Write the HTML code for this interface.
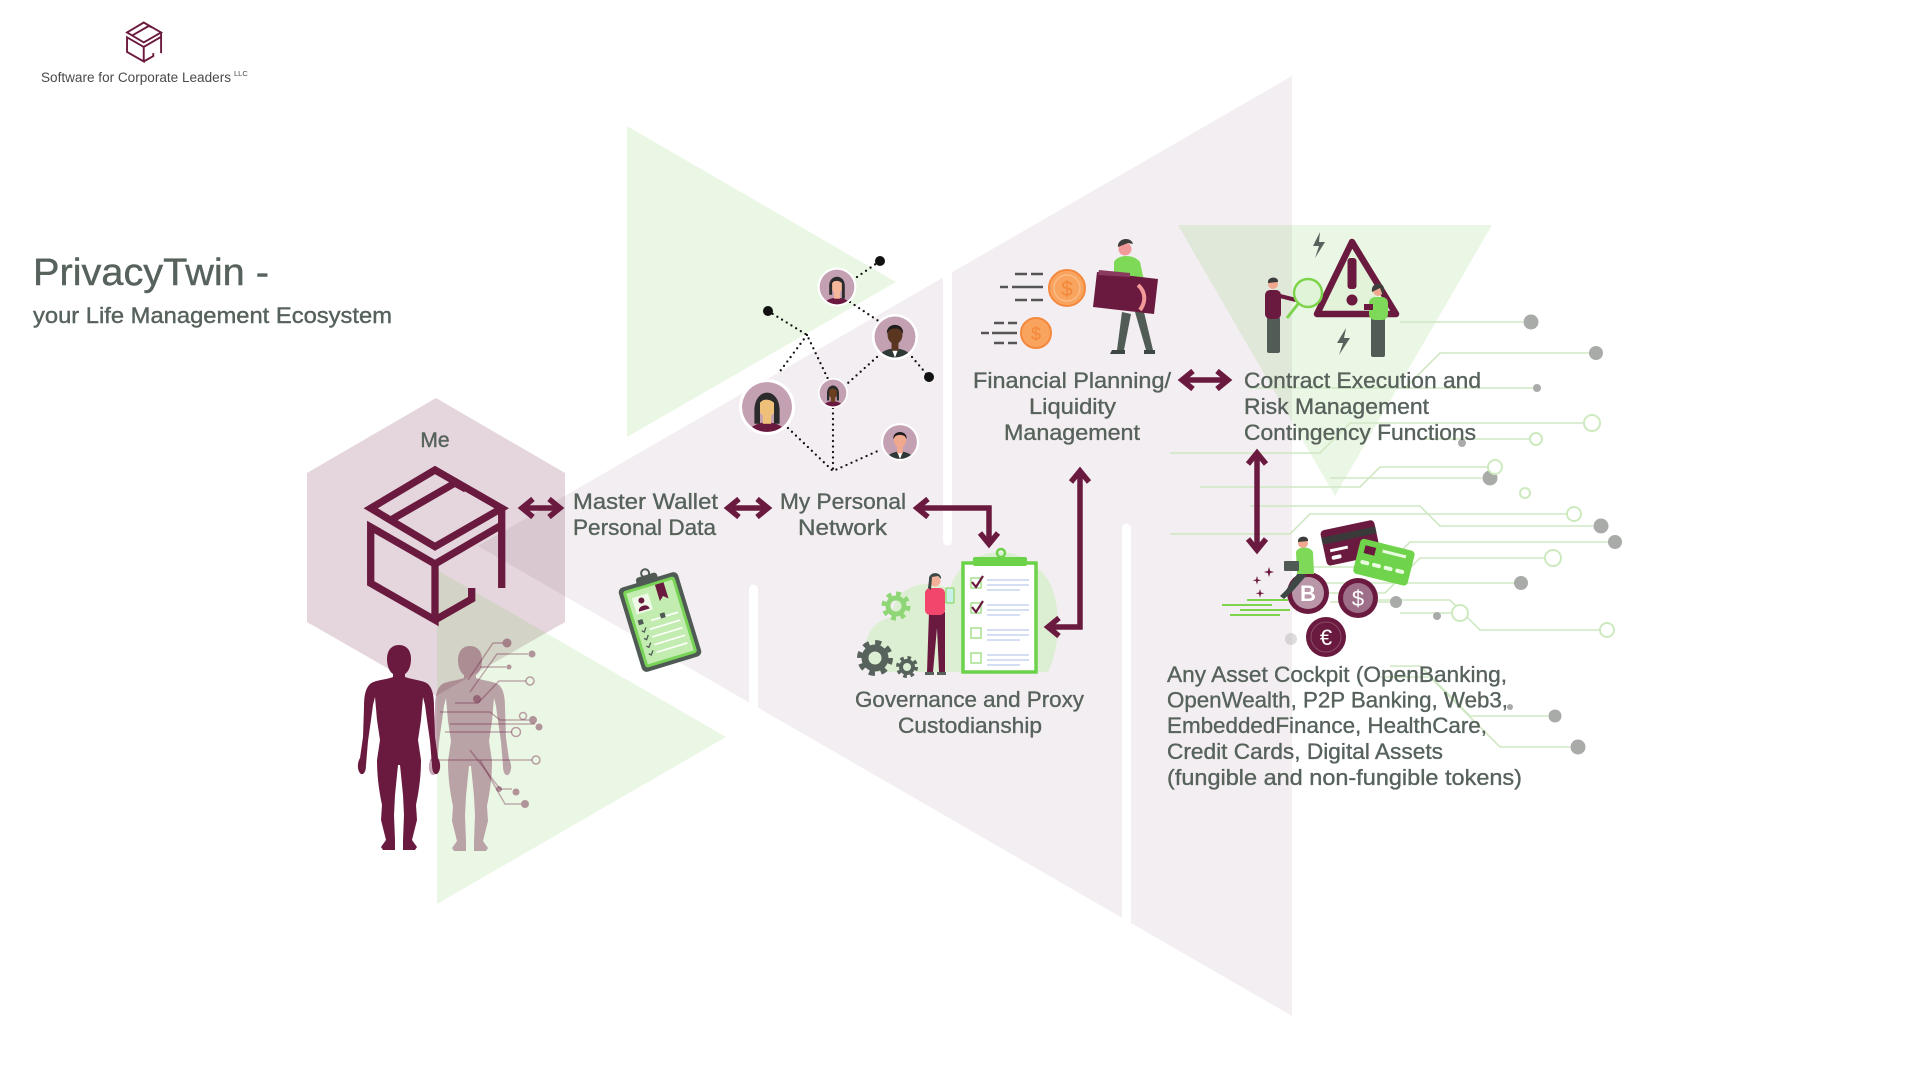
<!DOCTYPE html>
<html><head><meta charset="utf-8"><style>
html,body{margin:0;padding:0;background:#fff;}
svg{display:block;}
text{font-family:"Liberation Sans",Arial,sans-serif;}
</style></head><body>
<svg width="1920" height="1076" viewBox="0 0 1920 1076" xmlns="http://www.w3.org/2000/svg">
<defs>
<clipPath id="ac"><circle r="17.8"/></clipPath>
<g id="box" fill="none" stroke="#6b1a3f" stroke-width="7.3" stroke-linejoin="miter" stroke-linecap="butt">
<path d="M370.7 508.3 L435 470 L501.7 508.3 L435 546.7 Z"/>
<path d="M392.5 519 L455 483 L466 489"/>
<path d="M435 564 L370.7 527 V583.3 L435 620 V564 L501.7 525"/>
<path d="M501.7 506 V588"/>
<path d="M435 620 L471.7 599 V588"/>
</g>
<path id="man" d="M0 0 C8 0 12 6 12 14 C12 22 9 27 6 29 L6 32 C14 35 24 35 29 39 C34 44 35 52 35 62 L36 92 L39 113 C42 118 42 126 38 129 C35 130 33 126 33 120 L31 96 L28 75 L26 60 L24 52 L22 75 L19 95 L22 115 C22 135 19 150 17 160 L18 175 L13 195 L18 202 L16 205 L4 205 L4 195 L5 170 L4 150 L1 120 L-1 120 L-4 150 L-5 170 L-4 195 L-4 205 L-16 205 L-18 202 L-13 195 L-18 175 L-17 160 C-19 150 -22 135 -22 115 L-19 95 L-22 75 L-24 52 L-26 60 L-28 75 L-31 96 L-33 120 C-33 126 -35 130 -38 129 C-42 126 -42 118 -39 113 L-36 92 L-35 62 C-35 52 -34 44 -29 39 C-24 35 -14 35 -6 32 L-6 29 C-9 27 -12 22 -12 14 C-12 6 -8 0 0 0 Z"/>
</defs>

<!-- background shapes -->
<rect width="1920" height="1076" fill="#fff"/>
<polygon points="478,546 1292,76 1292,1016" fill="#f3eef1"/>
<polygon points="436,398 565,473 565,622 436,696 307,622 307,473" fill="#6b1a3f" fill-opacity="0.18"/>
<g stroke="#fff" stroke-width="9" stroke-linecap="round">
<line x1="753.5" y1="589" x2="753.5" y2="730"/>
<line x1="947.5" y1="250" x2="947.5" y2="541"/>
<line x1="1126.5" y1="528" x2="1126.5" y2="940"/>
</g>
<g fill="#6ec846" fill-opacity="0.14">
<polygon points="627,126 627,437 896,282"/>
<polygon points="437,570 437,904 726,737"/>
<polygon points="1178,225 1492,225 1335,496"/>
</g>

<!-- circuit lines right -->
<g fill="none" stroke="#cfe8c3" stroke-width="1.6">
<path d="M1523 322 H1400"/>
<path d="M1589 353 H1440 L1405 388 H1250"/>
<path d="M1533 388 H1390"/>
<path d="M1584 423 H1350 L1320 453 H1170"/>
<path d="M1530 439 H1420"/>
<path d="M1488 467 H1380 L1360 487 H1200"/>
<path d="M1482 478 H1330"/>
<path d="M1567 514 H1310 L1290 534 H1170"/>
<path d="M1593 526 H1440 L1420 506 H1250"/>
<path d="M1608 542 H1410 L1385 567 H1300"/>
<path d="M1545 558 H1420 L1385 593 H1300"/>
<path d="M1514 583 H1300"/>
<path d="M1452 613 H1400"/>
<path d="M1600 630 H1480 L1450 600 H1350"/>
<path d="M1548 716 H1470 L1420 666 H1390"/>
<path d="M1570 747 H1500 L1430 677 H1380"/>
<path d="M1390 602 H1330"/>
</g>
<g fill="#a9aba9">
<circle cx="1531" cy="322" r="7.5"/><circle cx="1596" cy="353" r="7"/><circle cx="1537" cy="388" r="4"/>
<circle cx="1462" cy="443" r="4"/><circle cx="1490" cy="478" r="7.5"/><circle cx="1601" cy="526" r="7.5"/>
<circle cx="1615" cy="542" r="7"/><circle cx="1521" cy="583" r="7"/><circle cx="1396" cy="602" r="6"/>
<circle cx="1437" cy="616" r="4"/><circle cx="1555" cy="716" r="6.5"/><circle cx="1578" cy="747" r="7.5"/>
<circle cx="1291" cy="639" r="6" fill-opacity="0.4"/><circle cx="1510" cy="707" r="3"/>
</g>
<g fill="#fff" stroke="#cdeabf" stroke-width="2">
<circle cx="1592" cy="423" r="8"/><circle cx="1536" cy="439" r="6"/><circle cx="1495" cy="467" r="7"/>
<circle cx="1525" cy="493" r="5"/><circle cx="1574" cy="514" r="7"/><circle cx="1553" cy="558" r="8"/>
<circle cx="1460" cy="613" r="8"/><circle cx="1607" cy="630" r="7"/>
</g>

<!-- logo -->
<use href="#box" transform="translate(144,42) scale(0.26) translate(-436,-545)"/>
<text x="41" y="82" font-size="13.5" fill="#4a4a4a" textLength="190" lengthAdjust="spacingAndGlyphs">Software for Corporate Leaders</text>
<text x="234" y="76" font-size="7.5" fill="#4a4a4a">LLC</text>

<!-- title -->
<text x="33" y="285" font-size="38" fill="#56625b" stroke="#56625b" stroke-width="0.4" textLength="236" lengthAdjust="spacingAndGlyphs">PrivacyTwin -</text>
<text x="33" y="323" font-size="22" fill="#56625b" stroke="#56625b" stroke-width="0.4" textLength="359" lengthAdjust="spacingAndGlyphs">your Life Management Ecosystem</text>

<!-- Me hexagon content -->
<text x="435" y="447" font-size="21" fill="#56625b" stroke="#56625b" stroke-width="0.4" text-anchor="middle">Me</text>
<use href="#box"/>

<!-- human figures -->
<use href="#man" transform="translate(399,645)" fill="#6b1a3f"/>
<use href="#man" transform="translate(470,646)" fill="#6b1a3f" fill-opacity="0.38"/>
<g fill="none" stroke="#6b1a3f" stroke-opacity="0.35" stroke-width="1.5">
<path d="M468 680 L493 643 H503"/>
<path d="M470 692 L497 654 H528"/>
<path d="M455 703 H478 L499 681 H526"/>
<path d="M480 667 H506"/>
<path d="M440 712 H490 L500 720 H529"/>
<path d="M450 724 H535"/>
<path d="M445 732 H512"/>
<path d="M430 760 H532"/>
<path d="M470 750 L500 789 H512"/>
<path d="M480 760 L505 804 H521"/>
</g>
<g fill="#6b1a3f" fill-opacity="0.45">
<circle cx="507" cy="643" r="4.5"/><circle cx="532" cy="654" r="3.5"/><circle cx="509" cy="667" r="2.5"/>
<circle cx="533" cy="720" r="4"/><circle cx="539" cy="727" r="3.5"/><circle cx="516" cy="792" r="3.5"/>
<circle cx="525" cy="804" r="4"/><circle cx="499" cy="789" r="3"/><circle cx="477" cy="699" r="4"/>
</g>
<g fill="none" stroke="#6b1a3f" stroke-opacity="0.4" stroke-width="1.5">
<circle cx="530" cy="681" r="4"/><circle cx="516" cy="732" r="4.5"/><circle cx="536" cy="760" r="4"/><circle cx="523" cy="716" r="3.5"/>
</g>

<!-- left clipboard -->
<g transform="translate(660,622) rotate(-17)">
<rect x="-31" y="-44" width="62" height="88" rx="5" fill="#4f5a55"/>
<rect x="-27" y="-40" width="54" height="80" rx="3" fill="#78d357"/>
<rect x="-24" y="-37" width="48" height="74" fill="#c3edb0"/>
<rect x="-11" y="-49" width="22" height="9" rx="3" fill="#4f5a55"/>
<circle cx="0" cy="-51" r="4" fill="none" stroke="#4f5a55" stroke-width="2"/>
<rect x="-20" y="-31" width="17" height="17" fill="#eef9e8"/>
<circle cx="-11.5" cy="-26" r="3" fill="#6b1a3f"/>
<path d="M-17 -16 C-17 -22 -6 -22 -6 -16 Z" fill="#6b1a3f"/>
<path d="M6 -37 H15 V-20 L10.5 -24 L6 -20 Z" fill="#6b1a3f"/>
<g stroke="#fff" stroke-width="1.6"><line x1="-8" y1="-4" x2="20" y2="-4"/><line x1="-12" y1="4" x2="20" y2="4"/><line x1="-12" y1="12" x2="20" y2="12"/><line x1="-12" y1="20" x2="20" y2="20"/><line x1="-12" y1="28" x2="20" y2="28"/></g>
<rect x="-21" y="-8" width="5" height="5" fill="#4f5a55"/><rect x="2" y="-8" width="5" height="5" fill="#4f5a55"/>
<g stroke="#4f5a55" stroke-width="1.3" fill="none"><path d="M-20 3 l2 2 l3 -4"/><path d="M-20 11 l2 2 l3 -4"/><path d="M-20 19 l2 2 l3 -4"/><path d="M-20 27 l2 2 l3 -4"/></g>
</g>

<!-- network -->
<g fill="none" stroke="#111" stroke-width="2.3" stroke-dasharray="0 5.5" stroke-linecap="round">
<path d="M857 277 L880 261"/>
<path d="M850 302 L880 322"/>
<path d="M768 311 L807 335 L828 379"/>
<path d="M807 335 L778 374"/>
<path d="M912 357 L929 377"/>
<path d="M877 357 L848 383"/>
<path d="M833 408 L833 471"/>
<path d="M788 428 L833 471 L880 450"/>
</g>
<g fill="#111"><circle cx="880" cy="261" r="5"/><circle cx="768" cy="311" r="5"/><circle cx="929" cy="377" r="5"/></g>
<!-- avatars -->
<g transform="translate(837,287) scale(0.975)">
<circle r="20" fill="#fff"/><circle r="17.8" fill="#c4a0b3"/>
<g clip-path="url(#ac)"><ellipse cy="20" rx="14" ry="9" fill="#6b1a3f"/><rect x="-3" y="4" width="6" height="8" fill="#f6b89a"/><ellipse cy="-2" rx="6.5" ry="8" fill="#f6b89a"/><path d="M-8 0 C-9 -14 9 -14 8 0 L8 12 L5 12 L5 -4 C2 -7 -3 -7 -5 -4 L-5 8 L-8 8Z" fill="#2b2b2b"/></g>
</g>
<g transform="translate(895,337) scale(1.15)">
<circle r="20" fill="#fff"/><circle r="17.8" fill="#c4a0b3"/>
<g clip-path="url(#ac)"><ellipse cy="20" rx="15" ry="10" fill="#2f3a36"/><path d="M-3 10 L0 18 L3 10Z" fill="#fff"/><rect x="-3" y="4" width="6" height="8" fill="#5a3520"/><ellipse cy="-2" rx="6.5" ry="8" fill="#5a3520"/><path d="M-7 -3 C-8 -13 8 -13 7 -3 L5 -6 C2 -8 -2 -8 -5 -6Z" fill="#1e1e1e"/></g>
</g>
<g transform="translate(767,407) scale(1.4)">
<circle r="20" fill="#fff"/><circle r="17.8" fill="#c4a0b3"/>
<g clip-path="url(#ac)"><ellipse cy="20" rx="14" ry="9" fill="#6b1a3f"/><rect x="-3" y="4" width="6" height="8" fill="#efc07a"/><ellipse cy="-1" rx="6.5" ry="8" fill="#efc07a"/><path d="M-9 4 C-10 -15 10 -15 9 4 L9 12 L5 12 L5 -3 C2 -6 -3 -6 -5 -3 L-5 12 L-9 12Z" fill="#2b2b2b"/></g>
</g>
<g transform="translate(833,393) scale(0.75)">
<circle r="20" fill="#fff"/><circle r="17.8" fill="#c4a0b3"/>
<g clip-path="url(#ac)"><ellipse cy="20" rx="14" ry="9" fill="#6b1a3f"/><rect x="-3" y="4" width="6" height="8" fill="#6b3f1f"/><ellipse cy="-1" rx="6.5" ry="8" fill="#6b3f1f"/><path d="M-8 2 C-9 -14 9 -14 8 2 L8 10 L5 10 L5 -3 C2 -7 -3 -7 -5 -3 L-5 10 L-8 10Z" fill="#2b2b2b"/></g>
</g>
<g transform="translate(900,442) scale(0.95)">
<circle r="20" fill="#fff"/><circle r="17.8" fill="#c4a0b3"/>
<g clip-path="url(#ac)"><ellipse cy="20" rx="15" ry="10" fill="#2f3a36"/><path d="M-3 10 L0 18 L3 10Z" fill="#fff"/><rect x="-3" y="4" width="6" height="8" fill="#f0a98f"/><ellipse cy="-2" rx="6.5" ry="8" fill="#f0a98f"/><path d="M-7 -3 C-8 -13 8 -13 7 -3 L5 -6 C2 -8 -2 -8 -5 -6Z" fill="#1e1e1e"/></g>
</g>

<!-- financial icon -->
<g stroke="#555" stroke-width="2.5">
<line x1="1015" y1="274" x2="1027" y2="274"/><line x1="1031" y1="274" x2="1043" y2="274"/>
<line x1="1000" y1="287" x2="1008" y2="287"/><line x1="1012" y1="287" x2="1043" y2="287"/>
<line x1="1015" y1="300" x2="1027" y2="300"/><line x1="1031" y1="300" x2="1043" y2="300"/>
<line x1="994" y1="323" x2="1004" y2="323"/><line x1="1008" y1="323" x2="1017" y2="323"/>
<line x1="981" y1="333" x2="989" y2="333"/><line x1="992" y1="333" x2="1017" y2="333"/>
<line x1="994" y1="343" x2="1004" y2="343"/><line x1="1008" y1="343" x2="1017" y2="343"/>
</g>
<circle cx="1067" cy="288" r="18" fill="#f9a45e" stroke="#f4883d" stroke-width="2"/>
<circle cx="1067" cy="288" r="13" fill="none" stroke="#fbbf8a" stroke-width="1.2"/>
<text x="1067" y="296" font-size="21" fill="#f3873a" text-anchor="middle">$</text>
<circle cx="1036" cy="333" r="15" fill="#f9a45e" stroke="#f4883d" stroke-width="2"/>
<text x="1036" y="340" font-size="18" fill="#f3873a" text-anchor="middle">$</text>
<path d="M1122 312 L1117 350 L1124 350 L1131 314 Z" fill="#515c57"/>
<path d="M1135 312 L1146 350 L1153 350 L1144 312 Z" fill="#515c57"/>
<path d="M1112 350 h13 v4 h-15z M1144 350 h11 v4 h-11z" fill="#3d4743"/>
<path d="M1114 262 C1118 254 1134 254 1140 262 L1146 290 L1114 292 Z" fill="#7ed957"/>
<circle cx="1125" cy="249" r="6.5" fill="#f29a9a"/>
<path d="M1118 247 C1117 238 1131 236 1133 244 L1128 243 Z" fill="#3d3d3d"/>
<polygon points="1097,272 1158,279 1154,314 1093,307" fill="#6b1a3f"/>
<polygon points="1099,270 1130,273 1130,277 1098,275" fill="#8a3a5e"/>
<path d="M1138 285 C1146 292 1146 302 1140 310" stroke="#f29a9a" stroke-width="4" fill="none"/>

<!-- warning icon -->
<path d="M1320 232 L1313 246 L1319 246 L1315 258 L1325 242 L1319 242 Z" fill="#56625b"/>
<path d="M1346 328 L1337 343 L1343 343 L1339 355 L1350 338 L1344 338 Z" fill="#56625b"/>
<path d="M1352 242 L1396 314 L1317 314 Z" fill="#e3f3da" stroke="#6b1a3f" stroke-width="6.5" stroke-linejoin="round"/>
<rect x="1347.5" y="258" width="9" height="31" rx="3" fill="#6b1a3f"/>
<circle cx="1352" cy="300" r="5.5" fill="#6b1a3f"/>
<rect x="1267" y="317" width="13" height="36" rx="2" fill="#515c57"/>
<rect x="1265" y="290" width="16" height="29" rx="5" fill="#6b1a3f"/>
<circle cx="1273" cy="284" r="5" fill="#f0a890"/>
<path d="M1268 283 C1267 276 1279 276 1278 282Z" fill="#3d3d3d"/>
<path d="M1280 296 L1296 300" stroke="#6b1a3f" stroke-width="4"/>
<circle cx="1308" cy="293" r="14" fill="#d9f2cf" fill-opacity="0.6" stroke="#7dd44b" stroke-width="2.5"/>
<line x1="1298" y1="304" x2="1287" y2="318" stroke="#7dd44b" stroke-width="3"/>
<rect x="1371" y="317" width="14" height="40" rx="2" fill="#515c57"/>
<rect x="1369" y="297" width="19" height="23" rx="6" fill="#7dd957"/>
<circle cx="1378" cy="291" r="5" fill="#f0a890"/>
<path d="M1372 292 C1370 282 1384 281 1384 289 L1383 296 L1380 288 Z" fill="#3d3d3d"/>
<rect x="1364" y="304" width="9" height="6" fill="#6b1a3f"/>

<!-- governance icon -->
<path d="M880 672 C858 672 858 622 893 617 C890 588 928 575 950 590 C958 552 1012 540 1032 566 C1062 576 1064 640 1048 672 Z" fill="#dcefd3"/>
<g transform="translate(896,606)" fill="none" stroke="#8fd676">
<circle r="11" stroke-width="7" stroke-dasharray="4.3 4.3"/><circle r="8" stroke-width="5"/>
</g>
<g transform="translate(875,658)" fill="none" stroke="#56625b">
<circle r="14" stroke-width="8" stroke-dasharray="5.5 5.5"/><circle r="10" stroke-width="7"/>
</g>
<g transform="translate(907,667)" fill="none" stroke="#56625b">
<circle r="8.5" stroke-width="5" stroke-dasharray="3.3 3.4"/><circle r="6" stroke-width="4"/>
</g>
<rect x="963" y="563" width="73" height="109" fill="#fff" stroke="#6cd24a" stroke-width="3.5"/>
<rect x="973" y="557" width="54" height="9" rx="2" fill="#6cd24a"/>
<circle cx="1001" cy="553" r="4" fill="none" stroke="#6cd24a" stroke-width="2.5"/>
<g fill="none" stroke="#a6df8e" stroke-width="1.5">
<rect x="971" y="578" width="10" height="10"/><rect x="971" y="603" width="10" height="10"/><rect x="971" y="628" width="10" height="10"/><rect x="971" y="653" width="10" height="10"/>
</g>
<g fill="none" stroke="#6b1a3f" stroke-width="2.2"><path d="M972 582 l4 5 l7 -11"/><path d="M972 607 l4 5 l7 -11"/></g>
<g stroke="#c9d4ef" stroke-width="1.5">
<line x1="987" y1="580" x2="1029" y2="580"/><line x1="987" y1="585" x2="1029" y2="585"/><line x1="987" y1="590" x2="1020" y2="590"/>
<line x1="987" y1="605" x2="1029" y2="605"/><line x1="987" y1="610" x2="1029" y2="610"/><line x1="987" y1="615" x2="1020" y2="615"/>
<line x1="987" y1="630" x2="1029" y2="630"/><line x1="987" y1="635" x2="1029" y2="635"/><line x1="987" y1="640" x2="1020" y2="640"/>
<line x1="987" y1="655" x2="1029" y2="655"/><line x1="987" y1="660" x2="1029" y2="660"/><line x1="987" y1="665" x2="1020" y2="665"/>
</g>
<path d="M929 612 L927 672 L933 672 L937 628 L939 672 L945 672 L945 612 Z" fill="#6b1a3f"/>
<path d="M925 672 h9 v3 h-9z M937 672 h9 v3 h-9z" fill="#56625b"/>
<rect x="925" y="588" width="20" height="27" rx="5" fill="#f2466c"/>
<circle cx="935" cy="581" r="5.5" fill="#f4b199"/>
<path d="M929 580 C928 571 942 571 941 579 L938 576 L932 577 L931 590 L928 588 Z" fill="#3d4743"/>
<rect x="946" y="588" width="8" height="15" rx="1" fill="#c9f0e8" stroke="#7dd44b" stroke-width="1"/>

<!-- asset cockpit icon -->
<g transform="rotate(-12 1350 543)">
<rect x="1323" y="525" width="55" height="36" rx="4" fill="#6b1a3f"/>
<rect x="1323" y="532" width="55" height="7" fill="#3a3a3a"/>
<rect x="1329" y="545" width="18" height="3" fill="#fff"/>
<rect x="1329" y="552" width="10" height="4" rx="2" fill="#fff"/>
</g>
<g transform="rotate(14 1383 562)">
<rect x="1356" y="544" width="56" height="36" rx="4" fill="#6fd44b"/>
<rect x="1362" y="550" width="11" height="8" fill="#6b1a3f"/>
<rect x="1380" y="550" width="24" height="3" fill="#e8fbe0"/>
<g fill="#e8fbe0"><rect x="1361" y="565" width="9" height="4" rx="2"/><rect x="1373" y="565" width="9" height="4" rx="2"/><rect x="1385" y="565" width="9" height="4" rx="2"/><rect x="1397" y="565" width="9" height="4" rx="2"/></g>
</g>
<g stroke="#7dd44b" stroke-width="2">
<line x1="1247" y1="600" x2="1288" y2="600"/><line x1="1222" y1="605" x2="1272" y2="605"/><line x1="1240" y1="610" x2="1290" y2="610"/><line x1="1230" y1="615" x2="1280" y2="615"/>
</g>
<g fill="#6b1a3f">
<path d="M1269 567 l1.2 4 l4 1 l-4 1 l-1.2 4 l-1.2 -4 l-4 -1 l4 -1z"/>
<path d="M1257 576 l1 3.5 l3.5 0.8 l-3.5 0.8 l-1 3.5 l-1 -3.5 l-3.5 -0.8 l3.5 -0.8z"/>
<path d="M1260 589 l1 3.5 l3.5 0.8 l-3.5 0.8 l-1 3.5 l-1 -3.5 l-3.5 -0.8 l3.5 -0.8z"/>
</g>
<circle cx="1308" cy="593" r="21" fill="#6b1a3f"/><circle cx="1308" cy="593" r="16" fill="#b996a8"/>
<text x="1308" y="601" font-size="22" font-weight="bold" fill="#fff" text-anchor="middle">B</text>
<circle cx="1358" cy="598" r="20" fill="#6b1a3f"/><circle cx="1358" cy="598" r="15" fill="#9d6f88"/>
<text x="1358" y="606" font-size="22" fill="#fff" text-anchor="middle">$</text>
<circle cx="1326" cy="637" r="20" fill="#6b1a3f"/><circle cx="1326" cy="637" r="15" fill="none" stroke="#8a4a66" stroke-width="1"/>
<text x="1326" y="645" font-size="22" fill="#fff" text-anchor="middle">€</text>
<path d="M1300 570 L1286 590 L1280 596 L1284 599 L1292 592 L1306 576 Z" fill="#3d4743"/>
<path d="M1296 552 C1298 546 1310 546 1313 552 L1314 574 L1297 574 Z" fill="#7dd957"/>
<circle cx="1303" cy="543" r="5" fill="#f0a890"/>
<path d="M1298 542 C1297 535 1309 535 1308 541 Z" fill="#3d3d3d"/>
<rect x="1284" y="561" width="15" height="10" rx="1" fill="#4f5a55"/>

<!-- arrows -->
<g fill="none" stroke="#6b1a3f" stroke-width="5.5" stroke-linejoin="miter">
<path d="M522 508 H560"/><path d="M533 499 L522 508 L533 517"/><path d="M549 499 L560 508 L549 517"/>
<path d="M728 508 H768"/><path d="M739 499 L728 508 L739 517"/><path d="M757 499 L768 508 L757 517"/>
<path d="M917 508 H989 V543"/><path d="M928 499 L917 508 L928 517"/><path d="M980 533 L989 544 L998 533"/>
<path d="M1182 380 H1228"/><path d="M1193 371 L1182 380 L1193 389"/><path d="M1217 371 L1228 380 L1217 389"/>
<path d="M1257 453 V550"/><path d="M1248 464 L1257 453 L1266 464"/><path d="M1248 539 L1257 550 L1266 539"/>
<path d="M1080 471 V627 H1048"/><path d="M1071 482 L1080 471 L1089 482"/><path d="M1059 618 L1048 627 L1059 636"/>
</g>

<!-- labels -->
<g font-size="22.5" fill="#56625b" stroke="#56625b" stroke-width="0.35">
<text x="573" y="509" textLength="145" lengthAdjust="spacingAndGlyphs">Master Wallet</text>
<text x="573" y="535" textLength="143" lengthAdjust="spacingAndGlyphs">Personal Data</text>
<text x="780" y="509" textLength="126" lengthAdjust="spacingAndGlyphs">My Personal</text>
<text x="798" y="535" textLength="89" lengthAdjust="spacingAndGlyphs">Network</text>
<text x="973" y="388" textLength="198" lengthAdjust="spacingAndGlyphs">Financial Planning/</text>
<text x="1029" y="414" textLength="87" lengthAdjust="spacingAndGlyphs">Liquidity</text>
<text x="1004" y="440" textLength="136" lengthAdjust="spacingAndGlyphs">Management</text>
<text x="1244" y="388" textLength="237" lengthAdjust="spacingAndGlyphs">Contract Execution and</text>
<text x="1244" y="414" textLength="185" lengthAdjust="spacingAndGlyphs">Risk Management</text>
<text x="1244" y="440" textLength="232" lengthAdjust="spacingAndGlyphs">Contingency Functions</text>
<text x="855" y="707" textLength="229" lengthAdjust="spacingAndGlyphs">Governance and Proxy</text>
<text x="898" y="733" textLength="144" lengthAdjust="spacingAndGlyphs">Custodianship</text>
<text x="1167" y="682" textLength="340" lengthAdjust="spacingAndGlyphs">Any Asset Cockpit (OpenBanking,</text>
<text x="1167" y="707.5" textLength="341" lengthAdjust="spacingAndGlyphs">OpenWealth, P2P Banking, Web3,</text>
<text x="1167" y="733" textLength="320" lengthAdjust="spacingAndGlyphs">EmbeddedFinance, HealthCare,</text>
<text x="1167" y="759" textLength="276" lengthAdjust="spacingAndGlyphs">Credit Cards, Digital Assets</text>
<text x="1167" y="785" textLength="355" lengthAdjust="spacingAndGlyphs">(fungible and non-fungible tokens)</text>
</g>
</svg>
</body></html>
